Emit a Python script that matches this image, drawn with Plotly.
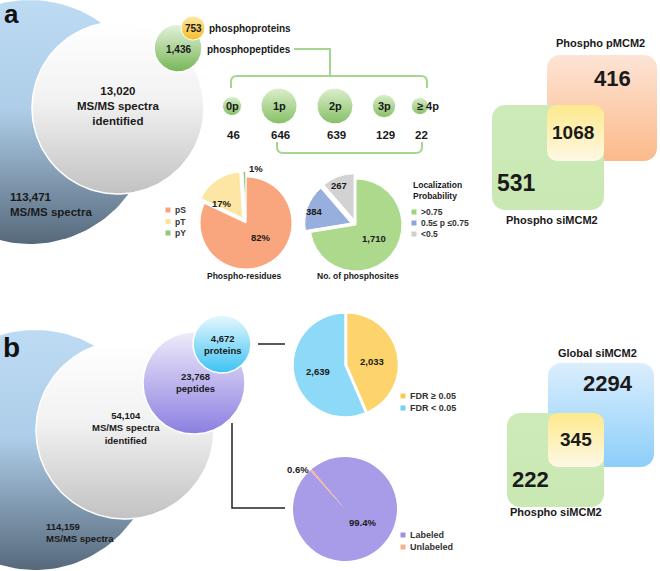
import numpy as np
import plotly.graph_objects as go

W, H = 660, 571
FONT = "Liberation Sans, Arial, sans-serif"
INK = "#1a1a1a"

# ---------------- data ----------------
spectra_a = 113471
identified_a = 13020
peptides_a = 1436
proteins_a = 753
p_classes = ["0p", "1p", "2p", "3p", "≥ 4p"]
p_counts = [46, 646, 639, 129, 22]
residue_labels = ["pS", "pT", "pY"]
residue_pct = [82, 17, 1]
site_labels = [">0.75", "0.5≤ p ≤0.75", "<0.5"]
site_counts = [1710, 384, 267]
venn_a_sets = ["Phospho pMCM2", "Phospho siMCM2"]
venn_a_values = [416, 1068, 531]      # only pMCM2, both, only siMCM2

spectra_b = 114159
identified_b = 54104
peptides_b = 23768
proteins_b = 4672
fdr_labels = ["FDR ≥ 0.05", "FDR < 0.05"]
fdr_counts = [2033, 2639]
label_labels = ["Labeled", "Unlabeled"]
label_pct = [99.4, 0.6]
venn_b_sets = ["Global siMCM2", "Phospho siMCM2"]
venn_b_values = [2294, 345, 222]      # only Global, both, only Phospho

fig = go.Figure()
annots = []
shapes = []


def fmt(v):
    return f"{v:,}"


def txt(x, y, s, size, color=INK, bold=True, xanchor="center", align="center"):
    annots.append(dict(x=x, y=y, xref="x", yref="y", text=(f"<b>{s}</b>" if bold else s),
                       showarrow=False, xanchor=xanchor, yanchor="middle", align=align,
                       font=dict(family=FONT, size=size, color=color)))


def circle_xy(cx, cy, r, n=160):
    t = np.linspace(0, 2 * np.pi, n)
    return cx + r * np.cos(t), cy + r * np.sin(t)


def rrect_xy(x0, y0, x1, y1, r, n=12):
    pts = []
    for cx, cy, a0, a1 in [(x1 - r, y0 + r, -np.pi / 2, 0), (x1 - r, y1 - r, 0, np.pi / 2),
                           (x0 + r, y1 - r, np.pi / 2, np.pi), (x0 + r, y0 + r, np.pi, 1.5 * np.pi)]:
        t = np.linspace(a0, a1, n)
        pts += list(zip(cx + r * np.cos(t), cy + r * np.sin(t)))
    pts.append(pts[0])
    xs, ys = zip(*pts)
    return list(xs), list(ys)


def blob(xs, ys, stops, lc="rgba(0,0,0,0)", lw=0):
    # stops are given top -> bottom; the gradient runs bottom -> top on screen, so flip
    scale = [[1 - p, c] for p, c in reversed(stops)]
    fig.add_trace(go.Scatter(x=list(xs), y=list(ys), mode="lines", fill="toself",
                             fillgradient=dict(type="vertical", colorscale=scale),
                             line=dict(color=lc, width=lw), hoverinfo="skip", showlegend=False))


BLUE_BIG = [[0, "#bddbf3"], [0.45, "#aecde8"], [1, "#56697b"]]
WHITE_BIG = [[0, "#ffffff"], [0.45, "#f2f2f2"], [1, "#c2c2c2"]]

# ---------------- panel a ----------------
blob(*circle_xy(30, 122, 122), BLUE_BIG)
blob(*circle_xy(118, 108, 86), WHITE_BIG, "white", 1.5)
blob(*circle_xy(178, 48, 24), [[0, "#e6f3dc"], [1, "#76b656"]], "white", 1.5)
blob(*circle_xy(193, 28, 12), [[0, "#fde9a2"], [1, "#f6bc2a"]], "white", 1)

txt(11, 14, "a", 26, "#111")
txt(118, 106, f"{fmt(identified_a)}<br>MS/MS spectra<br>identified", 11.5)
txt(8, 204, f"{fmt(spectra_a)}<br>MS/MS spectra", 11.5, xanchor="left", align="left")
txt(178, 49, fmt(peptides_a), 10)
txt(193, 28, fmt(proteins_a), 10)
txt(207, 28, "phosphoproteins", 10, xanchor="left")
txt(205, 49, "phosphopeptides", 10, xanchor="left")

GREEN_LINE = "#a6d68e"
shapes.append(dict(type="path", xref="x", yref="y", line=dict(color=GREEN_LINE, width=2),
                   path="M 294,49 L 330,49 L 330,76"))
shapes.append(dict(type="path", xref="x", yref="y", line=dict(color=GREEN_LINE, width=2),
                   path="M 231,88 L 231,82 Q 231,76 237,76 L 421,76 Q 427,76 427,82 L 427,88"))
shapes.append(dict(type="path", xref="x", yref="y", line=dict(color=GREEN_LINE, width=2),
                   path="M 277,142 L 277,147 Q 277,153 283,153 L 416,153 Q 422,153 422,147 L 422,142"))

ball_x = [232, 279, 335, 384, 420]
for bx, cls, cnt in zip(ball_x, p_classes, p_counts):
    r = 6.5 + 11.5 * np.sqrt(cnt / max(p_counts))
    blob(*circle_xy(bx, 106, r), [[0, "#dcefcc"], [1, "#86bf66"]], "white", 1)
    txt(bx + (8 if cls.startswith("≥") else 0), 106, cls, 11)
    txt(bx + 1, 135, str(cnt), 11.5)

# pie helpers
def dom(cx, cy, R):
    return dict(x=[(cx - R) / W, (cx + R) / W], y=[1 - (cy + R) / H, 1 - (cy - R) / H])


def legend_items(x, y0, dy, labels, colors, size=8.5):
    for i, (lab, col) in enumerate(zip(labels, colors)):
        y = y0 + i * dy
        shapes.append(dict(type="rect", xref="x", yref="y", x0=x - 2.5, x1=x + 2.5, y0=y - 2.5, y1=y + 2.5,
                           fillcolor=col, line=dict(width=0)))
        txt(x + 5, y, lab, size, "#333", xanchor="left")


res_colors = ["#f9a67e", "#fde6a4", "#93c97a"]
fig.add_trace(go.Pie(values=residue_pct, labels=residue_labels, sort=False, direction="clockwise",
                     rotation=0, pull=[0, 0.13, 0.12], marker=dict(colors=res_colors, line=dict(color="white", width=1)),
                     textinfo="none", hoverinfo="skip", showlegend=False, domain=dom(246, 223, 46 * 1.13)))
txt(261, 237, f"{residue_pct[0]}%", 9.5)
txt(222, 203, f"{residue_pct[1]}%", 9.5)
txt(256, 168, f"{residue_pct[2]}%", 9.5)
legend_items(168, 210, 11.5, residue_labels, ["#f8a080", "#fde49a", "#90c878"])
txt(244, 276, "Phospho-residues", 8.5)

site_colors = ["#acd98c", "#96afdd", "#d2d2d2"]
fig.add_trace(go.Pie(values=site_counts, labels=site_labels, sort=False, direction="clockwise",
                     rotation=0, pull=[0, 0.12, 0.12], marker=dict(colors=site_colors, line=dict(color="white", width=1)),
                     textinfo="none", hoverinfo="skip", showlegend=False, domain=dom(356, 225, 46 * 1.12)))
txt(374, 238, fmt(site_counts[0]), 9.5)
txt(314, 211, fmt(site_counts[1]), 9.5)
txt(339, 185, fmt(site_counts[2]), 9.5)
txt(411, 190, "Localization<br>Probability", 8.5, xanchor="left", align="left")
legend_items(414, 212, 11, site_labels, ["#9fd47c", "#8aa6d8", "#cfcfcf"])
txt(358, 276, "No. of phosphosites", 8.5)

# venn a
blob(*rrect_xy(547, 55, 657, 161, 13), [[0, "#fde4d5"], [1, "#fbba8a"]])
blob(*rrect_xy(492, 105, 604, 210, 13), [[0, "#cdebb9"], [1, "#c9e8b3"]])
blob(*rrect_xy(547, 105, 604, 161, 10), [[0, "#fde98c"], [1, "#fef8e6"]])
txt(600, 43, venn_a_sets[0], 11)
txt(612, 78, str(venn_a_values[0]), 22)
txt(573, 132, str(venn_a_values[1]), 19)
txt(516, 183, str(venn_a_values[2]), 23)
txt(552, 220, venn_a_sets[1], 11)

# ---------------- panel b ----------------
blob(*circle_xy(35, 450, 120), BLUE_BIG)
blob(*circle_xy(125, 430, 89), WHITE_BIG, "white", 1.5)
blob(*circle_xy(194, 383, 51), [[0, "#efebfa"], [1, "#8b7fe1"]], "white", 1.5)
blob(*circle_xy(222, 344, 29), [[0, "#e8f8fe"], [1, "#3dc3f3"]], "white", 1.5)

txt(11, 347, "b", 28, "#111")
txt(126, 428, f"{fmt(identified_b)}<br>MS/MS spectra<br>identified", 9.5)
txt(44, 532, f"{fmt(spectra_b)}<br>MS/MS spectra", 9.5, xanchor="left", align="left")
txt(195, 382, f"{fmt(peptides_b)}<br>peptides", 9.5)
txt(222, 344, f"{fmt(proteins_b)}<br>proteins", 9.5)

shapes.append(dict(type="path", xref="x", yref="y", line=dict(color="#222", width=1.5),
                   path="M 258,344 L 285,344"))
shapes.append(dict(type="path", xref="x", yref="y", line=dict(color="#222", width=1.5),
                   path="M 232,423 L 232,508 L 285,508"))

fdr_colors = ["#fdd46c", "#8cd9f8"]
fig.add_trace(go.Pie(values=fdr_counts, labels=fdr_labels, sort=False, direction="clockwise",
                     rotation=0, pull=[0.03, 0], marker=dict(colors=fdr_colors, line=dict(color="white", width=1.5)),
                     textinfo="none", hoverinfo="skip", showlegend=False, domain=dom(345, 365, 52 * 1.03)))
txt(372, 361, fmt(fdr_counts[0]), 9.5)
txt(318, 371, fmt(fdr_counts[1]), 9.5)
legend_items(403, 396, 12, fdr_labels, ["#f9cc50", "#6fd2f8"], 9)

lab_colors = ["#a89ce9", "#f8b48e"]
fig.add_trace(go.Pie(values=label_pct, labels=label_labels, sort=False, direction="clockwise",
                     rotation=-40, marker=dict(colors=lab_colors, line=dict(width=0)),
                     textinfo="none", hoverinfo="skip", showlegend=False, domain=dom(345, 509, 52)))
txt(362, 522, f"{label_pct[0]}%", 9.5)
txt(298, 469, f"{label_pct[1]}%", 9.5)
legend_items(403, 535, 12, label_labels, ["#9d90e4", "#f8b090"], 9)

# venn b
blob(*rrect_xy(548, 363, 654, 467, 13), [[0, "#dbeefd"], [1, "#8ccefa"]])
blob(*rrect_xy(507, 413, 604, 507, 13), [[0, "#cdebb9"], [1, "#c9e8b3"]])
blob(*rrect_xy(548, 413, 604, 467, 10), [[0, "#fde98c"], [1, "#fef8e6"]])
txt(597, 353, venn_b_sets[0], 11)
txt(608, 383, str(venn_b_values[0]), 22)
txt(576, 439, str(venn_b_values[1]), 19)
txt(530, 479, str(venn_b_values[2]), 22)
txt(556, 512, venn_b_sets[1], 11)

fig.update_layout(
    width=W, height=H, margin=dict(l=0, r=0, t=0, b=0),
    paper_bgcolor="white", plot_bgcolor="white",
    xaxis=dict(range=[0, W], visible=False, fixedrange=True),
    yaxis=dict(range=[H, 0], visible=False, fixedrange=True),
    annotations=annots, shapes=shapes, showlegend=False,
)
fig.write_html("out.html", config=dict(displayModeBar=False),
               post_script="document.body.style.margin='0px';document.body.style.overflow='hidden';")
